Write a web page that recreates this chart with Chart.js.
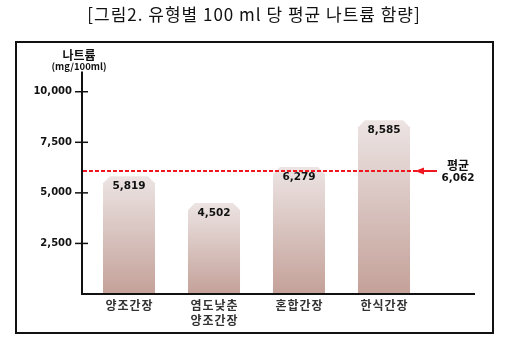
<!DOCTYPE html>
<html>
<head>
<meta charset="utf-8">
<script src="https://cdn.jsdelivr.net/npm/chart.js"></script>
<style>
  body { margin: 0; background: #fff; }
  #wrap { width: 508px; height: 349px; }
</style>
</head>
<body>
<div id="wrap"><canvas id="sodiumChart" width="508" height="349"></canvas></div>
<script>
const categories = [['양조간장'], ['염도낮춘', '양조간장'], ['혼합간장'], ['한식간장']];
const sodium = [5819, 4502, 6279, 8585];
const average = 6062;
const yTicks = [2500, 5000, 7500, 10000];
const yMax = 11000;

const KR = '"Noto Sans CJK KR", "Noto Sans", sans-serif';
const NUM = '"DejaVu Sans", sans-serif';
const fmt = (v) => v.toLocaleString('en-US');

const ctx = document.getElementById('sodiumChart');

// bars with cut corners, axes, average marker and all the text
const sodiumPlugin = {
    id: 'sodiumPlugin',
    afterDatasetsDraw(chart) {
        const c = chart.ctx;
        const cut = 7;
        chart.getDatasetMeta(0).data.forEach((bar, i) => {
            const l = bar.x - bar.width / 2;
            const r = bar.x + bar.width / 2;
            const g = c.createLinearGradient(0, bar.y, 0, bar.base);
            g.addColorStop(0, '#ece4e3');
            g.addColorStop(1, '#c4a199');
            c.save();
            c.fillStyle = g;
            c.beginPath();
            c.moveTo(l, bar.base);
            c.lineTo(l, bar.y + cut);
            c.lineTo(l + cut, bar.y);
            c.lineTo(r - cut, bar.y);
            c.lineTo(r, bar.y + cut);
            c.lineTo(r, bar.base);
            c.closePath();
            c.fill();

            c.fillStyle = '#111';
            c.font = 'bold 10.5px ' + NUM;
            c.textAlign = 'center';
            c.textBaseline = 'middle';
            c.fillText(fmt(sodium[i]), bar.x, bar.y + 10);
            c.restore();
        });
    },
    afterDraw(chart) {
        const c = chart.ctx;
        const x = chart.scales.x;
        const y = chart.scales.y;
        const axisX = 82;
        const y0 = y.getPixelForValue(0);

        c.save();
        // frame
        c.strokeStyle = '#111';
        c.lineWidth = 2;
        c.strokeRect(16, 42, 477, 291);

        // axes
        c.beginPath();
        c.moveTo(axisX, y.getPixelForValue(yMax));
        c.lineTo(axisX, y0);
        c.lineTo(475, y0);
        c.stroke();

        // y ticks
        c.lineWidth = 1.5;
        c.font = 'bold 10px ' + NUM;
        c.fillStyle = '#111';
        c.textAlign = 'right';
        c.textBaseline = 'middle';
        yTicks.forEach((t) => {
            const py = y.getPixelForValue(t);
            c.beginPath();
            c.moveTo(75, py);
            c.lineTo(88, py);
            c.stroke();
            c.fillText(fmt(t), 72, py);
        });

        // y axis title
        c.textAlign = 'center';
        c.font = 'bold 12px ' + KR;
        c.fillText('나트륨', 79, 55);
        c.font = 'bold 9.5px ' + KR;
        c.fillText('(mg/100ml)', 79, 66);

        // category labels
        c.font = 'bold 12px ' + KR;
        c.fillStyle = '#333';
        c.letterSpacing = '1px';
        categories.forEach((lines, i) => {
            const px = x.getPixelForValue(i);
            lines.forEach((s, j) => c.fillText(s, px + 0.5, 305 + j * 15));
        });
        c.letterSpacing = '0px';

        // average line with arrow
        const ay = Math.round(y.getPixelForValue(average));
        c.strokeStyle = '#f01820';
        c.fillStyle = '#f01820';
        c.lineWidth = 2;
        c.setLineDash([4, 2]);
        c.beginPath();
        c.moveTo(axisX + 1, ay);
        c.lineTo(417, ay);
        c.stroke();
        c.setLineDash([]);
        c.beginPath();
        c.moveTo(422, ay);
        c.lineTo(437, ay);
        c.stroke();
        c.beginPath();
        c.moveTo(415, ay);
        c.lineTo(424, ay - 3.5);
        c.lineTo(424, ay + 3.5);
        c.closePath();
        c.fill();

        c.fillStyle = '#111';
        c.font = 'bold 12px ' + KR;
        c.fillText('평균', 458, ay - 6);
        c.font = 'bold 10.5px ' + NUM;
        c.fillText(fmt(average), 458, ay + 7);

        // figure title
        c.font = '17px ' + KR;
        c.letterSpacing = '1px';
        c.fillText('[그림2. 유형별 100 ml 당 평균 나트륨 함량]', 254, 15);
        c.restore();
    }
};

const sodiumChart = new Chart(ctx, {
    type: 'bar',
    data: {
        labels: categories,
        datasets: [{
            data: sodium,
            backgroundColor: 'rgba(0,0,0,0)',
            categoryPercentage: 1,
            barPercentage: 0.612
        }]
    },
    options: {
        responsive: false,
        animation: false,
        layout: {
            padding: { left: 86.5, right: 81.5, top: 71.5, bottom: 55 }
        },
        scales: {
            x: { display: false, offset: true },
            y: { display: false, min: 0, max: yMax }
        },
        plugins: {
            legend: { display: false },
            tooltip: { enabled: false }
        }
    },
    plugins: [sodiumPlugin]
});
</script>
</body>
</html>
